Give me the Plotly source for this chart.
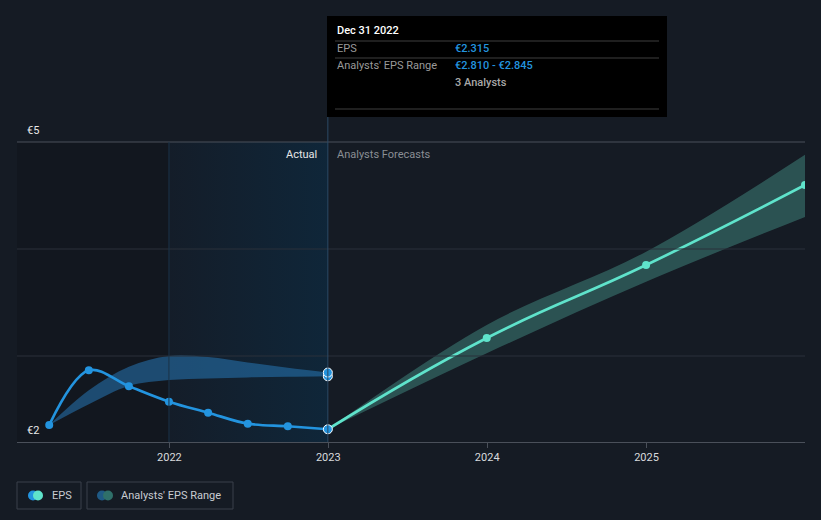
import plotly.graph_objects as go

# ---------------- data ----------------
actual_dates = ["2021-03-31", "2021-06-30", "2021-09-30", "2021-12-31",
                "2022-03-31", "2022-06-30", "2022-09-30", "2022-12-31"]
actual_eps = [2.355, 2.866, 2.717, 2.573, 2.470, 2.367, 2.343, 2.315]

actual_range_low = [2.355, 2.55, 2.72, 2.775, 2.79, 2.80, 2.805, 2.810]
actual_range_high = [2.355, 2.68, 2.90, 3.00, 2.99, 2.94, 2.89, 2.845]

fc_dates = ["2022-12-31", "2023-12-31", "2024-12-31", "2025-12-31"]
fc_eps = [2.315, 3.168, 3.85, 4.598]
fc_low = [2.315, 3.025, 3.694, 4.30]
fc_high = [2.315, 3.29, 3.975, 4.88]

tick_vals = ["2022-01-01", "2023-01-01", "2024-01-01", "2025-01-01"]
tick_text = ["2022", "2023", "2024", "2025"]

x_range = ["2021-01-16", "2025-12-31"]
y_range = [2.196, 5.0]
actual_start = "2021-12-31"
actual_end = "2022-12-31"

# ---------------- style ----------------
BG = "#151b24"
BLUE = "#2394df"
TEAL = "#5fe3cb"
FONT = "Roboto"

# plot area pixel geometry
L, R, T, B = 17, 805, 142, 442
W, H = R - L, B - T


def px(x):
    return (x - L) / W


def py(y):
    return (B - y) / H


fig = go.Figure()

# highlighted "actual" year with horizontal gradient
fig.add_trace(go.Scatter(
    x=[actual_start, actual_end, actual_end, actual_start, actual_start],
    y=[y_range[0], y_range[0], y_range[1], y_range[1], y_range[0]],
    mode="lines", line=dict(width=0), fill="toself",
    fillgradient=dict(type="horizontal",
                      colorscale=[[0, "#141d29"], [1, "#0f2639"]]),
    hoverinfo="skip", showlegend=False))

# actual EPS range band
fig.add_trace(go.Scatter(x=actual_dates, y=actual_range_low, mode="lines",
                         line=dict(width=0, shape="spline"),
                         hoverinfo="skip", showlegend=False))
fig.add_trace(go.Scatter(x=actual_dates, y=actual_range_high, mode="lines",
                         line=dict(width=0, shape="spline"), fill="tonexty",
                         fillcolor="rgba(38,118,180,0.55)",
                         hoverinfo="skip", showlegend=False))

# forecast range band
fig.add_trace(go.Scatter(x=fc_dates, y=fc_low, mode="lines",
                         line=dict(width=0, shape="spline"),
                         hoverinfo="skip", showlegend=False))
fig.add_trace(go.Scatter(x=fc_dates, y=fc_high, mode="lines",
                         line=dict(width=0, shape="spline"), fill="tonexty",
                         fillcolor="rgba(70,150,140,0.45)",
                         hoverinfo="skip", showlegend=False))

# forecast line
fig.add_trace(go.Scatter(x=fc_dates, y=fc_eps, mode="lines+markers",
                         line=dict(color=TEAL, width=2.7, shape="spline", smoothing=1.3),
                         marker=dict(color=TEAL, size=8),
                         hoverinfo="skip", showlegend=False))

# actual EPS line
fig.add_trace(go.Scatter(x=actual_dates, y=actual_eps, mode="lines+markers",
                         line=dict(color=BLUE, width=2.7, shape="spline"),
                         marker=dict(color=BLUE, size=8),
                         hoverinfo="skip", showlegend=False))

# hovered points (white outline)
fig.add_trace(go.Scatter(x=[actual_dates[-1]] * 3,
                         y=[actual_range_low[-1], actual_range_high[-1], actual_eps[-1]],
                         mode="markers",
                         marker=dict(color=BLUE, size=9,
                                     line=dict(color="white", width=1)),
                         hoverinfo="skip", showlegend=False))

shapes = []
# darker left region
shapes.append(dict(type="rect", xref="x", yref="paper", x0=x_range[0], x1=actual_start,
                   y0=0, y1=1, fillcolor="#12171f", line=dict(width=0), layer="below"))
# gridlines
for gy in [249, 356]:
    shapes.append(dict(type="line", xref="paper", yref="paper", x0=0, x1=1,
                       y0=py(gy), y1=py(gy), line=dict(color="#2a303a", width=1)))
shapes.append(dict(type="line", xref="paper", yref="paper", x0=0, x1=1,
                   y0=1, y1=1, line=dict(color="#4a505a", width=1)))
# faint vertical line at start of actual year
shapes.append(dict(type="line", xref="x", yref="paper", x0=actual_start, x1=actual_start,
                   y0=0, y1=1, line=dict(color="#1b3247", width=1)))
# hover vertical line
shapes.append(dict(type="line", xref="x", yref="paper", x0=actual_end, x1=actual_end,
                   y0=0, y1=py(117), line=dict(color="#2c4a66", width=1)))

# tooltip box
shapes.append(dict(type="rect", xref="paper", yref="paper", x0=px(327), x1=px(667),
                   y0=py(117), y1=py(16), fillcolor="#000000", line=dict(width=0)))
for sy in [41, 58, 109]:
    shapes.append(dict(type="line", xref="paper", yref="paper", x0=px(335), x1=px(659),
                       y0=py(sy), y1=py(sy), line=dict(color="#3e3e3e", width=1)))

# legend boxes
for x0, x1 in [(17, 81), (87, 233)]:
    shapes.append(dict(type="rect", xref="paper", yref="paper", x0=px(x0), x1=px(x1),
                       y0=py(509), y1=py(482), fillcolor="rgba(0,0,0,0)",
                       line=dict(color="#3a404a", width=1)))
for cx, col in [(33, BLUE), (38, TEAL), (102, "#1f5a85"), (108, "#2f706a")]:
    shapes.append(dict(type="circle", xref="paper", yref="paper",
                       xsizemode="pixel", ysizemode="pixel",
                       xanchor=px(cx), yanchor=py(495.5),
                       x0=-5, x1=5, y0=-5, y1=5, fillcolor=col, line=dict(width=0)))

annotations = []


def txt(x, y, s, color, size=11, xanchor="left", weight=None):
    annotations.append(dict(xref="paper", yref="paper", x=px(x), y=py(y), text=s,
                            showarrow=False, xanchor=xanchor, yanchor="middle",
                            font=dict(family=FONT, size=size, color=color,
                                      weight=weight)))


txt(25, 130, "€5", "#e8e8e8")
txt(25, 430, "€2", "#e8e8e8")
txt(319, 154, "Actual", "#e6e6e6", xanchor="right")
txt(335, 154, "Analysts Forecasts", "#8a8e94")

txt(335, 31, "Dec 31 2022", "#ffffff", weight=500)
txt(335, 49, "EPS", "#9a9a9a")
txt(453, 49, "€2.315", BLUE, weight=500)
txt(335, 66, "Analysts' EPS Range", "#9a9a9a")
txt(453, 66, "€2.810 - €2.845", BLUE, weight=500)
txt(453, 83, "3 Analysts", "#a8a8a8", weight=500)

txt(50, 495.5, "EPS", "#c8ccd2", size=11)
txt(119, 495.5, "Analysts' EPS Range", "#c8ccd2", size=11)

fig.update_layout(
    width=821, height=520,
    margin=dict(l=L, r=821 - R, t=T, b=520 - B),
    paper_bgcolor=BG, plot_bgcolor=BG,
    showlegend=False,
    shapes=shapes, annotations=annotations,
    font=dict(family=FONT),
    xaxis=dict(type="date", range=x_range, tickvals=tick_vals, ticktext=tick_text,
               showgrid=False, zeroline=False, showline=True, linecolor="#4a505a",
               linewidth=1, ticks="outside", ticklen=5, tickcolor="#4a505a",
               tickfont=dict(family=FONT, size=11, color="#d8dadd")),
    yaxis=dict(range=y_range, showgrid=False, zeroline=False, showticklabels=False,
               fixedrange=True),
)

fig.write_html("out.html")
